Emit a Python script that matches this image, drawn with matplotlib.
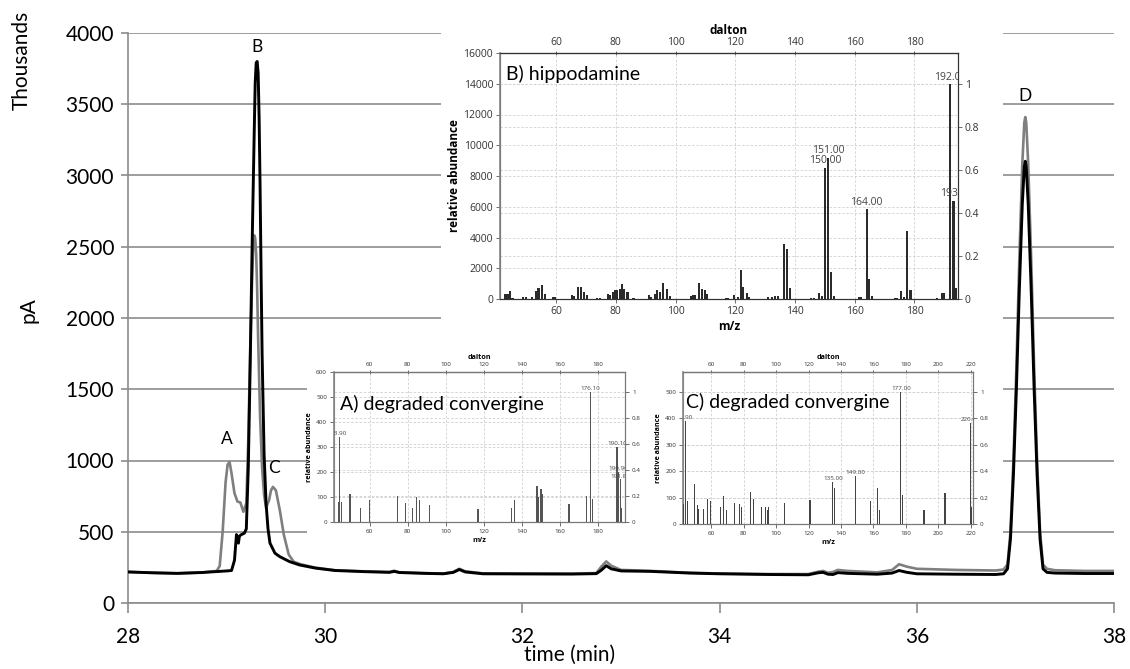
import matplotlib
matplotlib.use("Agg")
import matplotlib.pyplot as plt
from matplotlib.patches import Rectangle

# ---------------- chromatogram data (time in min, signal in thousands pA) ----------------
t_gray = [28.00, 28.25, 28.50, 28.75, 28.90, 28.93, 28.96, 28.99, 29.01, 29.03, 29.05, 29.08, 29.11,
          29.14, 29.17, 29.20, 29.22, 29.24, 29.26, 29.27, 29.28, 29.29, 29.30, 29.31, 29.32, 29.34,
          29.36, 29.38, 29.40, 29.43, 29.45, 29.47, 29.50, 29.54, 29.58, 29.63, 29.68, 29.75, 29.90,
          30.10, 30.40, 30.65, 30.70, 30.75, 31.00, 31.20, 31.30, 31.36, 31.42, 31.60, 32.00, 32.50,
          32.75, 32.80, 32.85, 32.90, 33.00, 33.30, 33.70, 34.00, 34.50, 34.90, 35.00, 35.05, 35.10,
          35.15, 35.20, 35.30, 35.60, 35.75, 35.82, 35.90, 36.00, 36.40, 36.80, 36.88, 36.92, 36.95,
          36.98, 37.01, 37.04, 37.07, 37.09, 37.10, 37.11, 37.13, 37.16, 37.19, 37.22, 37.25, 37.28,
          37.32, 37.40, 37.70, 38.00]
y_gray = [218, 212, 208, 214, 225, 260, 500, 850, 970, 990, 910, 770, 712,
          705, 640, 700, 1150, 1800, 2300, 2500, 2580, 2560, 2450, 2200, 1850, 1300,
          950, 760, 670, 720, 790, 815, 790, 650, 480, 340, 290, 272, 248,
          230, 222, 218, 226, 216, 210, 207, 218, 240, 222, 208, 207, 206,
          210, 255, 292, 262, 232, 225, 212, 207, 203, 203, 220, 225, 212,
          218, 232, 225, 215, 232, 272, 255, 240, 232, 228, 235, 270, 500,
          1000, 1650, 2420, 3080, 3370, 3410, 3370, 3080, 2420, 1650, 1000, 500, 270,
          240, 230, 225, 225]

t_black = [28.00, 28.25, 28.50, 28.75, 29.00, 29.05, 29.08, 29.10, 29.12, 29.13, 29.15, 29.18,
           29.20, 29.22, 29.24, 29.26, 29.28, 29.29, 29.30, 29.31, 29.32, 29.33, 29.34, 29.35,
           29.36, 29.38, 29.40, 29.42, 29.44, 29.49, 29.54, 29.64, 29.74, 29.90, 30.10, 30.40,
           30.65, 30.70, 30.75, 31.00, 31.20, 31.30, 31.36, 31.42, 31.60, 32.00, 32.50, 32.75,
           32.80, 32.85, 32.90, 33.00, 33.30, 33.70, 34.00, 34.50, 34.90, 35.00, 35.05, 35.10,
           35.15, 35.20, 35.30, 35.60, 35.75, 35.82, 35.90, 36.00, 36.40, 36.80, 36.88, 36.92,
           36.95, 36.98, 37.01, 37.04, 37.07, 37.09, 37.10, 37.11, 37.13, 37.16, 37.19, 37.22,
           37.25, 37.28, 37.32, 37.40, 37.70, 38.00]
y_black = [218, 212, 208, 214, 225, 228, 300, 480, 420, 470, 480, 490,
           520, 950, 1700, 2550, 3300, 3650, 3790, 3800, 3720, 3400, 2900, 2300,
           1750, 1050, 700, 520, 420, 350, 325, 290, 267, 245, 228, 220,
           215, 222, 214, 208, 205, 215, 235, 218, 205, 204, 203, 206,
           230, 262, 240, 225, 222, 210, 205, 200, 198, 212, 215, 202,
           200, 213, 208, 202, 210, 228, 215, 205, 202, 200, 205, 240,
           450, 900, 1500, 2200, 2800, 3060, 3100, 3060, 2800, 2200, 1500, 900,
           450, 240, 215, 210, 207, 207]

peak_names = ["A", "B", "C", "D"]
peak_t = [29.00, 29.31, 29.48, 37.10]
peak_y = [1150, 3900, 950, 3560]

x_ticks = [28, 30, 32, 34, 36, 38]
y_ticks = [0, 500, 1000, 1500, 2000, 2500, 3000, 3500, 4000]

# ---------------- mass spectra ----------------
b_mz = [42.9, 43.7, 44.5, 45.4, 49.0, 49.8, 51.8, 53.2, 54.1, 55.4, 56.4, 58.8, 59.6,
        65.2, 66.1, 67.4, 68.3, 69.3, 70.2, 73.6, 74.7, 77.3, 78.1, 79.0, 79.7, 80.5,
        81.4, 82.1, 82.8, 83.9, 85.9, 91.0, 91.8, 93.1, 93.9, 94.8, 95.9, 97.0, 98.2,
        105.1, 105.7, 106.6, 107.9, 109.0, 109.8, 110.6, 116.9, 117.6, 119.5, 121.0,
        121.8, 122.7, 123.8, 124.6, 131.0, 132.2, 133.3, 134.4, 136.3, 137.2, 138.3,
        145.5, 146.4, 148.0, 148.9, 150.0, 151.0, 152.0, 153.0, 161.3, 162.0, 164.0,
        164.8, 165.9, 173.4, 174.3, 175.6, 176.5, 177.6, 178.7, 187.7, 189.4, 189.9,
        192.0, 193.1, 193.8]
b_ab = [325, 300, 520, 60, 120, 120, 100, 550, 700, 920, 320, 120, 120,
        230, 200, 780, 780, 470, 280, 80, 80, 350, 250, 460, 560, 600,
        680, 960, 650, 480, 80, 280, 120, 340, 570, 440, 1050, 680, 180,
        200, 280, 260, 1020, 620, 600, 300, 80, 80, 280, 120,
        1900, 800, 380, 120, 120, 100, 200, 200, 3600, 3280, 700,
        80, 80, 400, 180, 8540, 9200, 1750, 200, 100, 100, 5830,
        1330, 200, 80, 80, 520, 150, 4400, 590, 80, 420, 420,
        14000, 6400, 720]
b_lab_mz = [150.0, 151.0, 164.0, 192.0, 193.1]
b_lab_txt = ["150.00", "151.00", "164.00", "192.00", "193.1"]

a_mz = [43.4, 43.9, 45.0, 49.6, 55.2, 59.7, 74.8, 78.7, 82.4, 84.5, 86.2, 91.3,
        116.7, 117.2, 134.5, 136.3, 148.0, 148.7, 150.1, 151.0, 164.5, 164.9,
        174.0, 176.1, 177.1, 190.1, 190.9, 191.8, 192.6]
a_ab = [82, 341, 82, 111, 58, 89, 105, 76, 58, 102, 89, 69,
        52, 52, 58, 89, 146, 102, 133, 113, 72, 72,
        106, 520, 94, 300, 202, 171, 56]
a_lab_mz = [43.9, 176.1, 190.1, 190.9, 191.8]
a_lab_txt = ["43.90", "176.10", "190.10", "190.90", "191.80"]

c_mz = [42.8, 43.9, 45.1, 49.5, 51.3, 52.3, 55.4, 57.7, 59.5, 65.7, 67.5, 69.4,
        74.3, 77.2, 78.8, 84.1, 86.0, 91.1, 93.6, 94.4, 95.4, 104.9, 120.6, 121.0,
        135.0, 136.0, 149.0, 158.4, 162.5, 163.7, 177.0, 177.7, 190.8, 191.2,
        203.9, 204.3, 220.0, 220.5]
c_ab = [76, 389, 88, 153, 73, 57, 57, 95, 88, 63, 105, 52,
        80, 77, 63, 121, 96, 63, 63, 54, 63, 80, 92, 92,
        159, 136, 183, 86, 136, 52, 500, 111, 54, 54,
        117, 117, 383, 63]
c_lab_mz = [43.9, 135.0, 149.0, 177.0, 220.0]
c_lab_txt = ["43.90", "135.00", "149.00", "177.00", "220.00"]

W, H = 1130, 669
fig = plt.figure(figsize=(W / 100, H / 100), dpi=100)
MAIN = ["Lato", "DejaVu Sans"]
SMALL = ["Open Sans", "DejaVu Sans"]

def fr(x0, y0, x1, y1):
    """pixel box (top-left origin) -> figure fraction rect"""
    return [x0 / W, 1 - y1 / H, (x1 - x0) / W, (y1 - y0) / H]

# ---------------- main chromatogram ----------------
ax = fig.add_axes(fr(128, 33, 1114, 603))
ax.plot(t_gray, y_gray, color="#7f7f7f", lw=1.9, zorder=3, solid_joinstyle="round")
ax.plot(t_black, y_black, color="black", lw=2.1, zorder=4, solid_joinstyle="round")
ax.set_xlim(28, 38)
ax.set_ylim(0, 4000)
ax.set_xticks(x_ticks)
ax.set_yticks(y_ticks)
ax.yaxis.grid(True, color="#8c8c8c", lw=1.2)
ax.set_axisbelow(True)
for s in ["top", "right"]:
    ax.spines[s].set_visible(False)
for s in ["left", "bottom"]:
    ax.spines[s].set_color("#8c8c8c")
    ax.spines[s].set_linewidth(1.2)
ax.tick_params(axis="x", length=7, width=1.2, color="#8c8c8c", pad=10, labelsize=15)
ax.tick_params(axis="y", length=5, width=1.2, color="#8c8c8c", pad=5, labelsize=15)
for lab in ax.get_xticklabels() + ax.get_yticklabels():
    lab.set_family(MAIN)
for n, t, v in zip(peak_names, peak_t, peak_y):
    ax.text(t, v, n, ha="center", va="center", fontsize=12.5, family=MAIN)

fig.text(570 / W, 1 - 655 / H, "time (min)", ha="center", va="center", fontsize=15, family=MAIN)
fig.text(28 / W, 1 - 310 / H, "pA", ha="center", va="center", rotation=90, fontsize=15, family=MAIN)
fig.text(22 / W, 1 - 60 / H, "Thousands", ha="center", va="center", rotation=90, fontsize=15, family=MAIN)

# white backgrounds of the pasted spectra
for (x0, y0, x1, y1) in [(441, 0, 1003, 345), (307, 338, 656, 552), (656, 338, 1003, 552)]:
    fig.add_artist(Rectangle((x0 / W, 1 - y1 / H), (x1 - x0) / W, (y1 - y0) / H,
                             transform=fig.transFigure, facecolor="white", edgecolor="none", zorder=1))

def spectrum(rect, mz, ab, lab_mz, lab_txt, xlim, ymax, norm, yticks, xticks, title, title_xy,
             tfs, lfs, afs, bar_color, spine_col, bar_w):
    a = fig.add_axes(rect)
    a.set_zorder(3)
    a.patch.set_visible(False)
    tw = a.twinx()
    tw.set_zorder(2.5)
    a.bar(mz, ab, width=bar_w, color=bar_color, zorder=3)
    a.set_xlim(*xlim)
    a.set_ylim(0, ymax)
    a.set_yticks(yticks)
    a.set_xticks(xticks)
    tw.set_ylim(0, ymax / norm)
    tw.set_yticks([0, 0.2, 0.4, 0.6, 0.8, 1])
    tw.set_yticklabels(["0", "0.2", "0.4", "0.6", "0.8", "1"])
    a.grid(True, ls=(0, (3, 2)), color="#d0d0d0", lw=0.6)
    tw.grid(True, axis="y", ls=(0, (3, 2)), color="#d0d0d0", lw=0.6)
    for s in a.spines.values():
        s.set_color(spine_col)
        s.set_linewidth(0.8)
    for s in tw.spines.values():
        s.set_color(spine_col)
        s.set_linewidth(0.8)
    a.spines["left"].set_color("#888888")
    a.spines["left"].set_linewidth(1.2)
    a.tick_params(labelsize=tfs, length=3, width=0.6, color="#555555", labelcolor="#333333", pad=2)
    tw.tick_params(labelsize=tfs, length=3, width=0.6, color="#555555", labelcolor="#333333", pad=2)
    top = a.secondary_xaxis("top")
    top.set_xticks(xticks)
    top.tick_params(labelsize=tfs, length=3, width=0.6, direction="inout", color="#555555",
                    labelcolor="#333333", pad=2)
    top.set_xlabel("dalton", fontsize=afs, fontweight="bold", family=SMALL, labelpad=2)
    a.set_xlabel("m/z", fontsize=afs, fontweight="bold", family=SMALL, labelpad=2)
    a.set_ylabel("relative abundance", fontsize=afs, fontweight="bold", family=SMALL, labelpad=2)
    for lab in a.get_xticklabels() + a.get_yticklabels() + tw.get_yticklabels() + top.get_xticklabels():
        lab.set_family(SMALL)
    for m, txt in zip(lab_mz, lab_txt):
        h = ab[mz.index(m)]
        a.text(m, h + ymax * 0.005, txt, ha="center", va="bottom", fontsize=lfs,
               color="#444444", family=SMALL, clip_on=True, zorder=4)
    a.text(title_xy[0], title_xy[1], title, transform=a.transAxes, ha="left", va="center",
           fontsize=14, family=MAIN, zorder=5)
    return a

spectrum(fr(500, 53, 958, 299), b_mz, b_ab, b_lab_mz, b_lab_txt, (41.2, 194.6), 16000, 14000,
         list(range(0, 16001, 2000)), [60, 80, 100, 120, 140, 160, 180], "B) hippodamine",
         (0.013, 0.915), 7.5, 7.5, 8.5, "#2b2b2b", "#333333", 0.7)
spectrum(fr(334, 372, 625, 522), a_mz, a_ab, a_lab_mz, a_lab_txt, (41.2, 194.3), 600, 520,
         list(range(0, 601, 100)), [60, 80, 100, 120, 140, 160, 180], "A) degraded convergine",
         (0.02, 0.79), 4.5, 4.5, 5.2, "#555555", "#777777", 0.6)
spectrum(fr(683, 372, 973, 524), c_mz, c_ab, c_lab_mz, c_lab_txt, (42.6, 221.4), 575, 500,
         list(range(0, 501, 100)), [60, 80, 100, 120, 140, 160, 180, 200, 220], "C) degraded convergine",
         (0.01, 0.80), 4.5, 4.5, 5.2, "#444444", "#777777", 0.6)

fig.savefig("out.png", dpi=100)
